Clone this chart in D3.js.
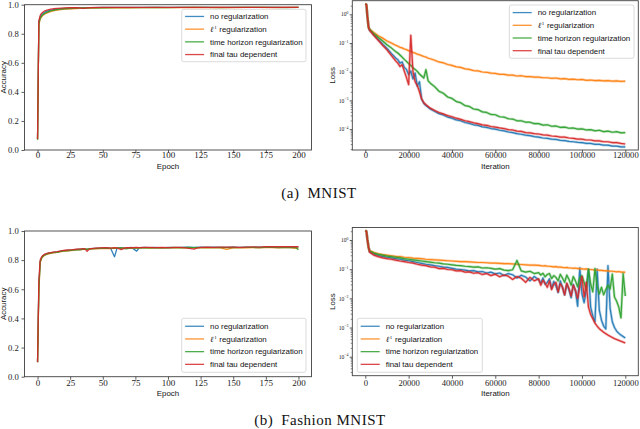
<!DOCTYPE html>
<html><head><meta charset="utf-8">
<script src="https://cdn.jsdelivr.net/npm/d3@7/dist/d3.min.js"></script>
<style>
html,body{margin:0;padding:0;background:#fff;}
svg{display:block;}
</style></head>
<body>
<svg id="c" width="640" height="429"></svg>
<script>
// ---------------- DATA ----------------
const seriesLabels = ["no regularization", "\u2113^1 regularization", "time horizon regularization", "final tau dependent"];
const seriesColors = ["#1f77b4", "#ff7f0e", "#2ca02c", "#d62728"];

// (a) MNIST accuracy vs epoch
const mnistEpochs = [0,1,2,3,4,5,6,8,10,12,15,18,21,25,30,35,40,50,60,70,80,90,100,110,120,130,140,150,160,170,180,190,200];
const mnistAccNoReg = [0.075,0.88,0.915,0.93,0.938,0.945,0.95,0.957,0.962,0.966,0.97,0.973,0.975,0.977,0.978,0.979,0.98,0.981,0.981,0.981,0.982,0.981,0.982,0.982,0.981,0.982,0.982,0.982,0.981,0.982,0.982,0.982,0.982];
const mnistAccL1 = [0.07,0.86,0.9,0.915,0.925,0.932,0.938,0.946,0.952,0.957,0.962,0.966,0.969,0.972,0.974,0.976,0.977,0.978,0.979,0.979,0.98,0.98,0.98,0.98,0.981,0.98,0.981,0.98,0.981,0.981,0.98,0.981,0.981];
const mnistAccTime = [0.07,0.87,0.905,0.92,0.93,0.937,0.943,0.951,0.957,0.961,0.966,0.969,0.972,0.974,0.976,0.977,0.978,0.979,0.98,0.98,0.98,0.981,0.98,0.981,0.981,0.981,0.98,0.981,0.981,0.981,0.981,0.98,0.981];
const mnistAccTau = [0.075,0.89,0.925,0.94,0.948,0.955,0.96,0.965,0.969,0.972,0.975,0.977,0.978,0.979,0.98,0.974,0.98,0.981,0.981,0.982,0.981,0.982,0.982,0.981,0.982,0.982,0.982,0.981,0.982,0.982,0.982,0.981,0.982];

// (a) MNIST loss vs iteration (values are log10 of the loss)
const mnistIters = [0,500,1000,1500,2000,4000,6000,8000,10000,12000,14000,15000,16000,17000,18000,19000,20000,21000,22000,23000,24000,25000,26000,27000,28000,29000,30000,32000,34000,36000,38000,40000,42000,44000,46000,48000,50000,52000,54000,56000,58000,60000,62000,64000,66000,68000,70000,72000,74000,76000,78000,80000,82000,84000,86000,88000,90000,92000,94000,96000,98000,100000,102000,104000,106000,108000,110000,112000,114000,116000,118000,120000];
const mnistLogLossNoReg = [0.36,0.34,-0.10,-0.45,-0.55,-0.72,-0.88,-1.04,-1.19,-1.36,-1.52,-1.58,-1.70,-1.66,-1.85,-1.92,-2.10,-1.98,-2.25,-2.05,-2.50,-2.35,-2.95,-3.10,-3.18,-3.24,-3.30,-3.38,-3.46,-3.51,-3.58,-3.62,-3.68,-3.71,-3.77,-3.80,-3.85,-3.87,-3.92,-3.94,-3.98,-4.00,-4.04,-4.06,-4.10,-4.12,-4.16,-4.18,-4.21,-4.23,-4.26,-4.28,-4.31,-4.32,-4.35,-4.36,-4.39,-4.40,-4.43,-4.44,-4.46,-4.47,-4.50,-4.50,-4.53,-4.53,-4.56,-4.56,-4.59,-4.59,-4.62,-4.62];
const mnistLogLossL1 = [0.36,0.34,-0.10,-0.45,-0.52,-0.64,-0.75,-0.83,-0.93,-1.00,-1.08,-1.11,-1.15,-1.17,-1.21,-1.23,-1.27,-1.29,-1.33,-1.35,-1.39,-1.41,-1.44,-1.47,-1.49,-1.53,-1.55,-1.60,-1.66,-1.69,-1.75,-1.78,-1.83,-1.85,-1.90,-1.92,-1.96,-1.97,-2.01,-2.02,-2.05,-2.06,-2.09,-2.09,-2.12,-2.12,-2.15,-2.14,-2.17,-2.17,-2.19,-2.19,-2.21,-2.21,-2.23,-2.22,-2.25,-2.24,-2.27,-2.26,-2.28,-2.27,-2.30,-2.29,-2.31,-2.30,-2.32,-2.31,-2.33,-2.32,-2.34,-2.33];
const mnistLogLossTime = [0.36,0.34,-0.10,-0.45,-0.53,-0.68,-0.81,-0.93,-1.06,-1.17,-1.30,-1.35,-1.42,-1.49,-1.57,-1.64,-1.72,-1.78,-1.86,-1.92,-1.99,-2.08,-2.15,-2.22,-1.93,-2.32,-2.40,-2.52,-2.68,-2.75,-2.88,-2.93,-3.04,-3.08,-3.18,-3.21,-3.30,-3.32,-3.40,-3.42,-3.49,-3.50,-3.57,-3.58,-3.64,-3.65,-3.71,-3.71,-3.76,-3.76,-3.81,-3.81,-3.86,-3.85,-3.90,-3.89,-3.94,-3.93,-3.97,-3.96,-4.00,-3.99,-4.03,-4.02,-4.06,-4.04,-4.09,-4.07,-4.11,-4.09,-4.13,-4.12];
const mnistLogLossTau = [0.36,0.34,-0.10,-0.45,-0.56,-0.74,-0.91,-1.08,-1.24,-1.43,-1.62,-1.70,-1.82,-1.76,-1.98,-2.20,-2.45,-0.73,-2.00,-2.35,-2.48,-2.70,-2.95,-3.08,-3.15,-3.21,-3.27,-3.35,-3.42,-3.47,-3.53,-3.57,-3.62,-3.66,-3.71,-3.74,-3.78,-3.81,-3.85,-3.87,-3.91,-3.93,-3.96,-3.98,-4.02,-4.03,-4.07,-4.08,-4.12,-4.13,-4.16,-4.17,-4.20,-4.21,-4.24,-4.25,-4.28,-4.28,-4.31,-4.32,-4.35,-4.35,-4.38,-4.38,-4.41,-4.41,-4.44,-4.44,-4.47,-4.47,-4.50,-4.52];

// (b) Fashion MNIST accuracy vs epoch
const fashionEpochs = [0,1,2,3,4,5,6,8,10,12,15,18,21,24,27,30,33,36,38,40,44,48,52,56,59,61,64,68,72,76,78,82,86,90,95,100,105,110,115,120,122,125,130,135,140,145,150,155,160,165,170,175,180,185,190,195,198,200];
const fashionAccNoReg = [0.10,0.62,0.79,0.815,0.828,0.835,0.84,0.846,0.85,0.853,0.856,0.862,0.866,0.868,0.87,0.874,0.873,0.877,0.876,0.879,0.881,0.883,0.884,0.882,0.823,0.884,0.886,0.884,0.887,0.862,0.885,0.887,0.886,0.888,0.884,0.887,0.886,0.888,0.889,0.887,0.888,0.889,0.888,0.889,0.887,0.888,0.889,0.887,0.889,0.888,0.890,0.889,0.891,0.888,0.890,0.889,0.891,0.889];
const fashionAccL1 = [0.10,0.58,0.78,0.81,0.822,0.83,0.836,0.842,0.847,0.85,0.853,0.858,0.862,0.864,0.867,0.87,0.872,0.874,0.875,0.876,0.878,0.88,0.881,0.88,0.882,0.881,0.883,0.882,0.884,0.883,0.884,0.885,0.883,0.885,0.884,0.885,0.884,0.886,0.885,0.886,0.885,0.886,0.885,0.886,0.884,0.874,0.885,0.886,0.885,0.886,0.885,0.887,0.886,0.885,0.887,0.884,0.881,0.884];
const fashionAccTime = [0.10,0.60,0.785,0.812,0.825,0.832,0.838,0.844,0.848,0.851,0.854,0.86,0.863,0.866,0.869,0.871,0.873,0.875,0.874,0.877,0.879,0.881,0.882,0.881,0.883,0.882,0.884,0.878,0.884,0.883,0.885,0.884,0.886,0.884,0.886,0.885,0.887,0.885,0.887,0.886,0.887,0.886,0.887,0.886,0.888,0.886,0.887,0.886,0.888,0.887,0.886,0.888,0.887,0.886,0.888,0.886,0.887,0.871];
const fashionAccTau = [0.10,0.66,0.80,0.82,0.832,0.838,0.843,0.849,0.852,0.855,0.858,0.864,0.868,0.87,0.872,0.876,0.878,0.879,0.86,0.878,0.882,0.884,0.885,0.883,0.885,0.884,0.872,0.886,0.885,0.887,0.886,0.888,0.887,0.886,0.888,0.886,0.888,0.887,0.883,0.875,0.882,0.887,0.889,0.888,0.890,0.889,0.890,0.888,0.890,0.891,0.890,0.893,0.892,0.893,0.892,0.893,0.892,0.893];

// (b) Fashion MNIST loss vs iteration (values are log10 of the loss)
const fashionIters = [0,500,1000,1500,2000,4000,6000,8000,10000,12000,14000,16000,18000,20000,22000,24000,26000,28000,30000,32000,34000,36000,38000,40000,42000,44000,46000,48000,50000,52000,54000,56000,58000,60000,62000,64000,66000,68000,70000,72000,74000,76000,78000,80000,81000,82000,83000,84000,85000,86000,87000,88000,89000,90000,91000,92000,93000,94000,95000,96000,97000,98000,99000,100000,101000,102000,103000,104000,105000,106000,107000,108000,109000,110000,111000,112000,113000,114000,115000,116000,117000,118000,119000,120000];
const fashionLogLossNoReg = [0.32,0.30,0.00,-0.25,-0.40,-0.48,-0.53,-0.56,-0.59,-0.61,-0.64,-0.66,-0.69,-0.71,-0.74,-0.77,-0.80,-0.83,-0.85,-0.88,-0.90,-0.93,-0.94,-0.97,-1.00,-1.01,-1.03,-1.06,-1.05,-1.09,-1.08,-1.13,-1.10,-1.16,-1.13,-1.22,-1.15,-1.19,-1.30,-1.21,-1.27,-1.40,-1.25,-1.36,-1.48,-1.30,-1.52,-1.45,-1.33,-1.66,-1.42,-1.58,-1.80,-1.40,-1.62,-1.88,-1.50,-1.70,-1.98,-1.52,-1.75,-2.27,-0.95,-1.85,-2.15,-1.70,-1.00,-2.30,-2.60,-2.80,-1.00,-2.40,-2.75,-2.95,-3.05,-0.88,-2.35,-2.80,-3.00,-3.12,-3.20,-3.26,-3.31,-3.36];
const fashionLogLossL1 = [0.32,0.30,0.00,-0.25,-0.36,-0.43,-0.47,-0.50,-0.52,-0.54,-0.56,-0.57,-0.59,-0.60,-0.62,-0.63,-0.64,-0.66,-0.67,-0.68,-0.69,-0.70,-0.71,-0.72,-0.73,-0.74,-0.74,-0.75,-0.76,-0.77,-0.77,-0.78,-0.79,-0.79,-0.80,-0.81,-0.81,-0.82,-0.83,-0.84,-0.85,-0.86,-0.86,-0.87,-0.88,-0.89,-0.88,-0.90,-0.90,-0.91,-0.92,-0.91,-0.93,-0.93,-0.94,-0.95,-0.94,-0.96,-0.96,-0.97,-0.96,-0.98,-0.98,-0.99,-1.00,-0.99,-1.01,-1.01,-1.02,-1.03,-1.02,-1.04,-1.04,-1.05,-1.06,-1.05,-1.07,-1.07,-1.08,-1.09,-1.08,-1.10,-1.10,-1.11];
const fashionLogLossTime = [0.32,0.30,0.00,-0.25,-0.38,-0.45,-0.49,-0.52,-0.55,-0.57,-0.59,-0.61,-0.64,-0.66,-0.68,-0.70,-0.72,-0.74,-0.76,-0.78,-0.79,-0.82,-0.83,-0.85,-0.87,-0.88,-0.90,-0.91,-0.93,-0.92,-0.96,-0.95,-0.97,-1.00,-0.98,-1.03,-1.05,-1.02,-0.70,-1.06,-1.10,-1.07,-1.15,-1.12,-1.20,-1.14,-1.26,-1.18,-1.15,-1.32,-1.22,-1.28,-1.40,-1.18,-1.30,-1.45,-1.20,-1.35,-1.55,-1.25,-1.40,-1.60,-1.30,-1.22,-1.45,-1.72,-1.00,-1.50,-1.78,-0.98,-1.58,-1.85,-1.62,-1.88,-1.70,-1.55,-1.68,-1.17,-1.95,-2.10,-2.30,-2.67,-1.15,-1.92];
const fashionLogLossTau = [0.32,0.30,0.00,-0.25,-0.42,-0.52,-0.57,-0.61,-0.64,-0.66,-0.69,-0.72,-0.74,-0.77,-0.79,-0.83,-0.86,-0.88,-0.92,-0.93,-0.98,-0.97,-1.01,-1.02,-1.06,-1.05,-1.10,-1.09,-1.14,-1.12,-1.18,-1.15,-1.22,-1.17,-1.26,-1.20,-1.24,-1.35,-1.25,-1.31,-1.45,-1.28,-1.40,-1.33,-1.55,-1.38,-1.48,-1.62,-1.40,-1.70,-1.52,-1.45,-1.78,-1.50,-1.62,-1.88,-1.48,-1.66,-1.92,-1.55,-1.72,-2.00,-1.60,-1.25,-1.95,-1.45,-2.30,-2.55,-2.70,-2.85,-2.95,-3.04,-3.10,-3.16,-3.21,-3.26,-3.30,-3.34,-3.38,-3.41,-3.44,-3.47,-3.50,-3.53];

// tick values
const epochTicks = [0,25,50,75,100,125,150,175,200];
const accTicks = [0.0,0.2,0.4,0.6,0.8,1.0];
const iterTicks = [0,20000,40000,60000,80000,100000,120000];
const lossTicks = [1,0.1,0.01,0.001,0.0001];
const lossTickExp = ["0","\u22121","\u22122","\u22123","\u22124"];

// ---------------- DRAWING ----------------
const SERIF = "'Liberation Serif','Times New Roman',serif";
const SANS = "'Liberation Sans',Arial,sans-serif";
const svg = d3.select("#c");
const defs = svg.append("defs");

function panel(p) {
  const x = d3.scaleLinear().domain(p.xDomain).range([p.left, p.right]);
  const y = (p.log ? d3.scaleLog() : d3.scaleLinear()).domain(p.yDomain).range([p.bottom, p.top]);
  const cid = "clip-" + p.id;
  defs.append("clipPath").attr("id", cid).append("rect")
    .attr("x", p.left).attr("y", p.top).attr("width", p.right - p.left).attr("height", p.bottom - p.top);

  const gl = svg.append("g").attr("clip-path", `url(#${cid})`);
  const line = d3.line().x(d => x(d[0])).y(d => y(d[1]));
  p.series.forEach((vals, i) => {
    const n = Math.min(vals.length, p.xs.length);
    const pts = [];
    for (let j = 0; j < n; j++) pts.push([p.xs[j], p.log ? Math.pow(10, vals[j]) : vals[j]]);
    if (p.log) {
      // soft band imitating the dense per-iteration noise of the original
      gl.append("path").datum(pts).attr("d", line)
        .attr("fill", "none").attr("stroke", seriesColors[i])
        .attr("stroke-width", 2.6).attr("stroke-linejoin", "round").attr("stroke-opacity", 0.35);
    }
    gl.append("path").datum(pts).attr("d", line)
      .attr("fill", "none").attr("stroke", seriesColors[i])
      .attr("stroke-width", p.log ? 1.2 : 1.3).attr("stroke-linejoin", "round").attr("stroke-opacity", 0.92);
  });

  // x axis
  const gx = svg.append("g").attr("transform", `translate(0,${p.bottom})`)
    .call(d3.axisBottom(x).tickValues(p.xTicks).tickSize(3).tickFormat(d3.format("d")));
  gx.select(".domain").remove();
  gx.selectAll(".tick line").attr("stroke", "#333").attr("stroke-width", 0.8);
  gx.selectAll(".tick text").attr("y", p.xLabelDy).attr("dy", 0)
    .attr("font-family", SERIF).attr("font-size", p.xTickSize).attr("fill", "#222");

  // y axis
  if (!p.log) {
    const gy = svg.append("g").attr("transform", `translate(${p.left},0)`)
      .call(d3.axisLeft(y).tickValues(p.yTicks).tickSize(3).tickPadding(2.8).tickFormat(d3.format(".1f")));
    gy.select(".domain").remove();
    gy.selectAll(".tick line").attr("stroke", "#333").attr("stroke-width", 0.8);
    gy.selectAll(".tick text").attr("font-family", SERIF).attr("font-size", 8.6).attr("fill", "#222").attr("dy", "0.33em");
  } else {
    const [lo, hi] = p.yDomain;
    const minor = [];
    for (let k = -6; k <= 1; k++) for (let m = 2; m <= 9; m++) {
      const v = m * Math.pow(10, k);
      if (v > lo && v < hi) minor.push(v);
    }
    const gm = svg.append("g").attr("transform", `translate(${p.left},0)`)
      .call(d3.axisLeft(y).tickValues(minor).tickSize(1.6).tickFormat(""));
    gm.select(".domain").remove();
    gm.selectAll(".tick line").attr("stroke", "#333").attr("stroke-width", 0.6);
    const gy = svg.append("g").attr("transform", `translate(${p.left},0)`)
      .call(d3.axisLeft(y).tickValues(lossTicks).tickSize(2.6).tickPadding(1.2).tickFormat(""));
    gy.select(".domain").remove();
    gy.selectAll(".tick line").attr("stroke", "#333").attr("stroke-width", 0.8);
    gy.selectAll(".tick text").each(function (d) {
      const t = d3.select(this);
      t.text(null).attr("font-family", SERIF).attr("font-size", 5.6).attr("fill", "#222").attr("dy", "0.3em");
      t.append("tspan").text("10");
      t.append("tspan").attr("dy", -2.4).attr("font-size", 3.9).text(lossTickExp[lossTicks.indexOf(d)]);
    });
  }

  // spines
  svg.append("rect").attr("x", p.left).attr("y", p.top)
    .attr("width", p.right - p.left).attr("height", p.bottom - p.top)
    .attr("fill", "none").attr("stroke", "#404040").attr("stroke-width", 0.9);

  // axis labels
  svg.append("text").attr("x", (p.left + p.right) / 2).attr("y", p.xTitleY)
    .attr("text-anchor", "middle").attr("font-family", SANS).attr("font-size", 7.9).attr("fill", "#111")
    .text(p.xTitle);
  svg.append("text").attr("transform", `translate(${p.yTitleX},${(p.top + p.bottom) / 2}) rotate(-90)`)
    .attr("text-anchor", "middle").attr("font-family", SANS).attr("font-size", 7.9).attr("fill", "#111")
    .text(p.yTitle);

  // legend
  const L = p.legend;
  const lg = svg.append("g");
  lg.append("rect").attr("x", L.x).attr("y", L.y).attr("width", L.w).attr("height", L.h)
    .attr("rx", 2).attr("fill", "#fff").attr("fill-opacity", 0.8)
    .attr("stroke", "#d2d2d2").attr("stroke-width", 0.8);
  const cy = L.y + L.h / 2;
  seriesLabels.forEach((lab, i) => {
    const ry = cy + (i - 1.5) * 12.7;
    lg.append("line").attr("x1", L.x + 3.4).attr("x2", L.x + 22.4).attr("y1", ry).attr("y2", ry)
      .attr("stroke", seriesColors[i]).attr("stroke-width", 1.3).attr("stroke-opacity", 0.85);
    const t = lg.append("text").attr("x", L.x + 28.4).attr("y", ry + 2.8)
      .attr("font-family", SANS).attr("font-size", 7.9).attr("fill", "#111");
    if (lab.indexOf("^1") >= 0) {
      t.append("tspan").attr("font-family", SERIF).attr("font-style", "italic").text("\u2113");
      t.append("tspan").attr("font-family", SERIF).attr("font-size", 5).attr("dy", -3).attr("dx", 0.8).text("1");
      t.append("tspan").attr("dy", 3).attr("dx", 2.6).text("regularization");
    } else {
      t.text(lab);
    }
  });
}

panel({
  id: "tl", left: 24.5, right: 311.5, top: 4.7, bottom: 150,
  xDomain: [-10, 210], yDomain: [0, 1], log: false,
  xs: mnistEpochs, series: [mnistAccNoReg, mnistAccL1, mnistAccTime, mnistAccTau],
  xTicks: epochTicks, yTicks: accTicks, xLabelDy: 8.4, xTickSize: 9,
  xTitle: "Epoch", yTitle: "Accuracy", xTitleY: 169, yTitleX: 6.0,
  legend: { x: 181.7, y: 9.3, w: 124.3, h: 52.4 }
});
panel({
  id: "tr", left: 352.3, right: 638.3, top: 0.7, bottom: 150,
  xDomain: [-6000, 126000], yDomain: [Math.pow(10, -4.728), Math.pow(10, 0.474)], log: true,
  xs: mnistIters, series: [mnistLogLossNoReg, mnistLogLossL1, mnistLogLossTime, mnistLogLossTau],
  xTicks: iterTicks, xLabelDy: 8.4, xTickSize: 8.6,
  xTitle: "Iteration", yTitle: "Loss", xTitleY: 169, yTitleX: 335,
  legend: { x: 509.3, y: 5, w: 124.7, h: 53.3 }
});
panel({
  id: "bl", left: 24.5, right: 311.5, top: 231, bottom: 376.7,
  xDomain: [-10, 210], yDomain: [0, 1], log: false,
  xs: fashionEpochs, series: [fashionAccNoReg, fashionAccL1, fashionAccTime, fashionAccTau],
  xTicks: epochTicks, yTicks: accTicks, xLabelDy: 9.3, xTickSize: 9,
  xTitle: "Epoch", yTitle: "Accuracy", xTitleY: 396, yTitleX: 6.0,
  legend: { x: 181.7, y: 318.3, w: 124.3, h: 54 }
});
panel({
  id: "br", left: 352.3, right: 638.3, top: 227.5, bottom: 375.7,
  xDomain: [-6000, 126000], yDomain: [Math.pow(10, -4.651), Math.pow(10, 0.429)], log: true,
  xs: fashionIters, series: [fashionLogLossNoReg, fashionLogLossL1, fashionLogLossTime, fashionLogLossTau],
  xTicks: iterTicks, xLabelDy: 10, xTickSize: 8.6,
  xTitle: "Iteration", yTitle: "Loss", xTitleY: 396, yTitleX: 335,
  legend: { x: 357.3, y: 318.3, w: 125, h: 54 }
});

// captions
svg.append("text").attr("x", 319).attr("y", 198.4).attr("text-anchor", "middle")
  .attr("font-family", SERIF).attr("font-size", 15).attr("letter-spacing", 0.5).attr("fill", "#111")
  .text("(a)\u2002MNIST");
svg.append("text").attr("x", 320).attr("y", 425).attr("text-anchor", "middle")
  .attr("font-family", SERIF).attr("font-size", 15).attr("letter-spacing", 0.5).attr("fill", "#111")
  .text("(b)\u2002Fashion MNIST");
</script>
</body></html>
